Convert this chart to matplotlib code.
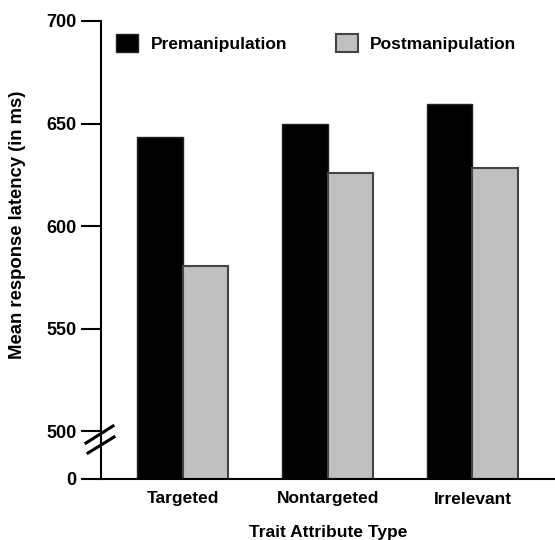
import matplotlib
matplotlib.use("Agg")
import matplotlib.pyplot as plt
import numpy as np
from matplotlib.lines import Line2D

categories = ["Targeted", "Nontargeted", "Irrelevant"]
pre = [643.5, 650, 659.5]
post = [580.5, 626, 628.5]
series_names = ["Premanipulation", "Postmanipulation"]
ytick_values = [500, 550, 600, 650, 700]
zero_label = "0"

FONT = ["Liberation Sans Narrow", "Liberation Sans", "DejaVu Sans"]
plt.rcParams['font.family'] = FONT
plt.rcParams['font.weight'] = 'bold'
plt.rcParams['axes.labelweight'] = 'bold'

fig = plt.figure(figsize=(5.55, 5.4), dpi=100)
ax = fig.add_axes([101/555, 61/540, (555-101)/555, (479-21)/540])

base = 476.6  # position representing the broken-axis "0"
x = np.arange(len(categories))
w = 0.315
ax.bar(x - w/2, np.array(pre) - base, w, bottom=base, color="black",
       edgecolor="#222222", linewidth=1, label=series_names[0])
ax.bar(x + w/2, np.array(post) - base, w, bottom=base, color="#c0c0c0",
       edgecolor="#444444", linewidth=1.5, label=series_names[1])

ax.set_ylim(base, 700)
ax.set_xlim(-0.565, 2.57)
ax.set_yticks([base] + ytick_values)
ax.set_yticklabels([zero_label] + [str(v) for v in ytick_values])
ax.set_xticks(x)
ax.set_xticklabels(categories)
ax.tick_params(axis='y', length=14.5, width=1.5, labelsize=13, pad=3)
ax.tick_params(axis='x', length=0, labelsize=12.5, pad=9)
for s in ['top', 'right']:
    ax.spines[s].set_visible(False)
for s in ['left', 'bottom']:
    ax.spines[s].set_linewidth(1.5)

ax.set_ylabel("Mean response latency (in ms)", fontsize=13.3)
ax.yaxis.set_label_coords(-0.165, 0.555)
ax.set_xlabel("Trait Attribute Type", fontsize=12.5, labelpad=13)

# break marks
def fig_line(x0, y0, x1, y1):
    fig.add_artist(Line2D([x0/555, x1/555], [1 - y0/540, 1 - y1/540],
                          color="black", linewidth=2.2))
fig_line(86, 443, 113, 426)
fig_line(88, 453, 114, 437)

leg = ax.legend(ncol=2, frameon=False, fontsize=12.5, loc='upper left',
                bbox_to_anchor=((116-101)/454, 0.972), handlelength=1.27,
                handleheight=1.27, handletextpad=0.72, columnspacing=2.8,
                borderaxespad=0, borderpad=0)

fig.savefig("out.png", dpi=100)
